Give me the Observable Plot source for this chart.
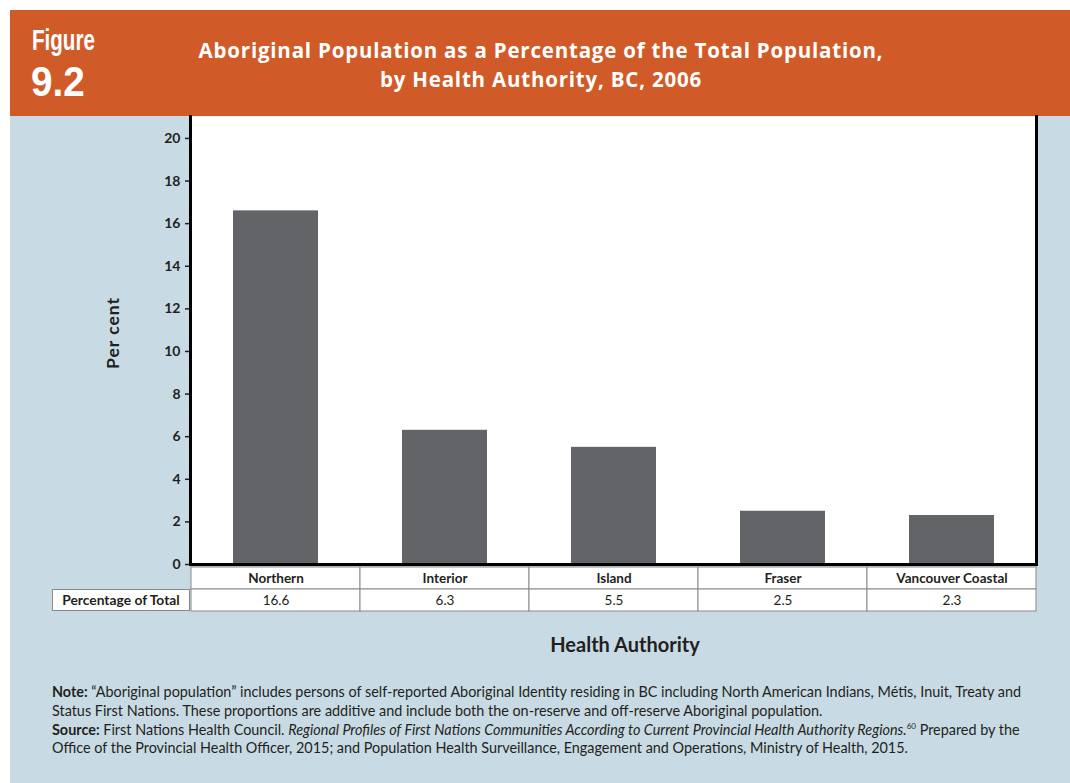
<!DOCTYPE html>
<html><head><meta charset="utf-8">
<script src="https://cdn.jsdelivr.net/npm/d3@7"></script>
<script src="https://cdn.jsdelivr.net/npm/@observablehq/plot@0.6"></script>
<style>
body{margin:0;background:#fff;width:1070px;height:783px;overflow:hidden;position:relative;font-family:Lato,"Open Sans",sans-serif;color:#231f20;}
#band{position:absolute;left:10px;top:10px;width:1060px;height:106px;background:#D05B28;}
#bg{position:absolute;left:10px;top:116px;width:1060px;height:667px;background:#C8DBE4;}
.fig{position:absolute;color:#fff;font-family:"Liberation Sans",Arial,sans-serif;font-weight:bold;transform-origin:0 0;white-space:nowrap;line-height:1;}
#fig1{left:32px;top:26px;font-size:29px;transform:scaleX(0.71);}
#fig2{left:31px;top:60px;font-size:43px;transform:scaleX(0.9);}
#title{position:absolute;left:100px;width:882px;top:36px;text-align:center;color:#fff;font-family:"Open Sans",Lato,sans-serif;font-weight:bold;font-size:20.5px;letter-spacing:0.8px;line-height:29px;white-space:nowrap;}
#main{position:absolute;left:0;top:116px;}
#table{position:absolute;left:0;top:565px;}
#rowhead{position:absolute;left:52px;top:589px;width:138px;height:22px;box-sizing:border-box;border:1px solid #8a8a8a;background:#fff;font-weight:bold;font-size:13.8px;line-height:20px;text-align:center;}
#ylab{position:absolute;left:112px;top:333px;transform:translate(-50%,-50%) rotate(-90deg);font-weight:bold;font-size:17.5px;letter-spacing:1px;white-space:nowrap;}
#xlab{position:absolute;left:625px;top:644px;transform:translate(-50%,-50%);font-weight:bold;font-size:20px;white-space:nowrap;}
#note{position:absolute;left:52px;top:683px;font-size:14.4px;line-height:18.8px;white-space:nowrap;}
sup{font-size:8px;line-height:0;}
</style>
</head><body>
<div id="band"></div><div id="bg"></div>
<div class="fig" id="fig1">Figure</div>
<div class="fig" id="fig2">9.2</div>
<div id="title">Aboriginal Population as a Percentage of the Total Population,<br>by Health Authority, BC, 2006</div>
<div id="main"></div>
<div id="table"></div>
<div id="rowhead">Percentage of Total</div>
<div id="ylab">Per cent</div>
<div id="xlab">Health Authority</div>
<div id="note"><b>Note:</b> “Aboriginal population” includes persons of self-reported Aboriginal Identity residing in BC including North American Indians, Métis, Inuit, Treaty and<br>Status First Nations. These proportions are additive and include both the on-reserve and off-reserve Aboriginal population.<br><b>Source:</b> First Nations Health Council. <i>Regional Profiles of First Nations Communities According to Current Provincial Health Authority Regions.</i><sup>60</sup> Prepared by the<br>Office of the Provincial Health Officer, 2015; and Population Health Surveillance, Engagement and Operations, Ministry of Health, 2015.</div>
<script>
const categories = ["Northern", "Interior", "Island", "Fraser", "Vancouver Coastal"];
const values = [16.6, 6.3, 5.5, 2.5, 2.3];
const yTicks = [0, 2, 4, 6, 8, 10, 12, 14, 16, 18, 20];
const rows = ["name", "value"];

const data = categories.map((c, i) => ({category: c, value: values[i]}));

const chart = Plot.plot({
  width: 1070, height: 452,
  marginLeft: 190, marginRight: 34, marginTop: 0, marginBottom: 4,
  style: {background: "transparent", fontFamily: "Lato, 'Open Sans', sans-serif", overflow: "visible", color: "#231f20"},
  x: {domain: categories, paddingInner: 0.5, paddingOuter: 0.25, axis: null},
  y: {domain: [0, 21.03], axis: null},
  marks: [
    Plot.frame({fill: "white", stroke: null}),
    Plot.barY(data, {x: "category", y: "value", fill: "#636467"}),
    Plot.axisY({ticks: yTicks, tickSize: 5, tickPadding: 5, fontWeight: "bold", fontSize: 14, label: null, strokeWidth: 1.5}),
    Plot.ruleY([0], {stroke: "#000", strokeWidth: 3}),
    Plot.frame({anchor: "left", stroke: "#000", strokeWidth: 3}),
    Plot.frame({anchor: "right", stroke: "#000", strokeWidth: 3})
  ]
});
document.getElementById("main").appendChild(chart);

const cells = [];
data.forEach(d => {
  cells.push({category: d.category, row: "name", label: d.category, bold: true});
  cells.push({category: d.category, row: "value", label: d.value.toFixed(1), bold: false});
});

const table = Plot.plot({
  width: 1070, height: 47,
  marginLeft: 190, marginRight: 34, marginTop: 1, marginBottom: 1,
  style: {background: "transparent", fontFamily: "Lato, 'Open Sans', sans-serif", overflow: "visible", color: "#231f20"},
  x: {domain: categories, padding: 0, axis: null},
  y: {domain: rows, padding: 0, axis: null},
  marks: [
    Plot.cell(cells, {x: "category", y: "row", fill: "white", stroke: "#8a8a8a", strokeWidth: 1}),
    Plot.text(cells.filter(d => d.bold), {x: "category", y: "row", text: "label", fontWeight: "bold", fontSize: 13.5, fill: "#231f20"}),
    Plot.text(cells.filter(d => !d.bold), {x: "category", y: "row", text: "label", fontSize: 13.5, fill: "#231f20"})
  ]
});
document.getElementById("table").appendChild(table);
</script>
</body></html>
